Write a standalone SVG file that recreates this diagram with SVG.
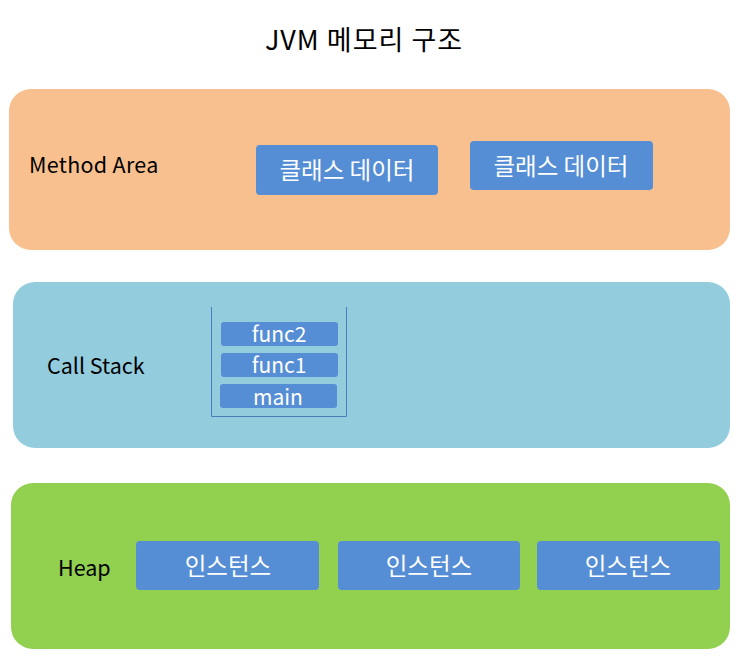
<svg xmlns="http://www.w3.org/2000/svg" width="740" height="666" viewBox="0 0 740 666">
<style>
text{font-family:"Noto Sans CJK KR","Noto Sans",sans-serif}
.lbl{font-size:21.5px;fill:#000}
.box{fill:#558ED5}
.bt{font-size:23.5px;fill:#fff;text-anchor:middle}
.st{font-size:21px;fill:#fff;text-anchor:middle}
</style>
<rect width="740" height="666" fill="#fff"/>
<text x="364" y="50" font-size="27" letter-spacing="1" text-anchor="middle" fill="#000">JVM 메모리 구조</text>
<g id="method-area">
<rect x="9" y="89" width="721" height="161" rx="22" fill="#F9C08F"/>
<text class="lbl" x="29" y="173" letter-spacing="0.3">Method Area</text>
</g>
<g id="class-data-1">
<rect class="box" x="256" y="145" width="182" height="50" rx="4"/>
<text class="bt" x="347" y="179">클래스 데이터</text>
</g>
<g id="class-data-2">
<rect class="box" x="470" y="141" width="183" height="49" rx="4"/>
<text class="bt" x="561" y="175">클래스 데이터</text>
</g>
<g id="call-stack">
<rect x="13" y="282" width="717" height="166" rx="22" fill="#93CDDD"/>
<text class="lbl" x="47" y="374">Call Stack</text>
<path d="M211.5 307 V416.5 H346.5 V307" fill="none" stroke="#4A7EBB" stroke-width="1"/>
</g>
<g id="func2">
<rect class="box" x="221" y="322" width="117" height="24" rx="3"/>
<text class="st" x="279" y="342">func2</text>
</g>
<g id="func1">
<rect class="box" x="221" y="353" width="117" height="24" rx="3"/>
<text class="st" x="279" y="373">func1</text>
</g>
<g id="main">
<rect class="box" x="220" y="384" width="117" height="24" rx="3"/>
<text class="st" x="278" y="405">main</text>
</g>
<g id="heap">
<rect x="11" y="483" width="719" height="166" rx="22" fill="#92D050"/>
<text class="lbl" x="58" y="576">Heap</text>
</g>
<g id="instance-1">
<rect class="box" x="136" y="541" width="183" height="49" rx="4"/>
<text class="bt" x="228" y="575">인스턴스</text>
</g>
<g id="instance-2">
<rect class="box" x="338" y="541" width="182" height="49" rx="4"/>
<text class="bt" x="429" y="575">인스턴스</text>
</g>
<g id="instance-3">
<rect class="box" x="537" y="541" width="183" height="49" rx="4"/>
<text class="bt" x="628" y="575">인스턴스</text>
</g>
<g id="connectors"></g>
</svg>
